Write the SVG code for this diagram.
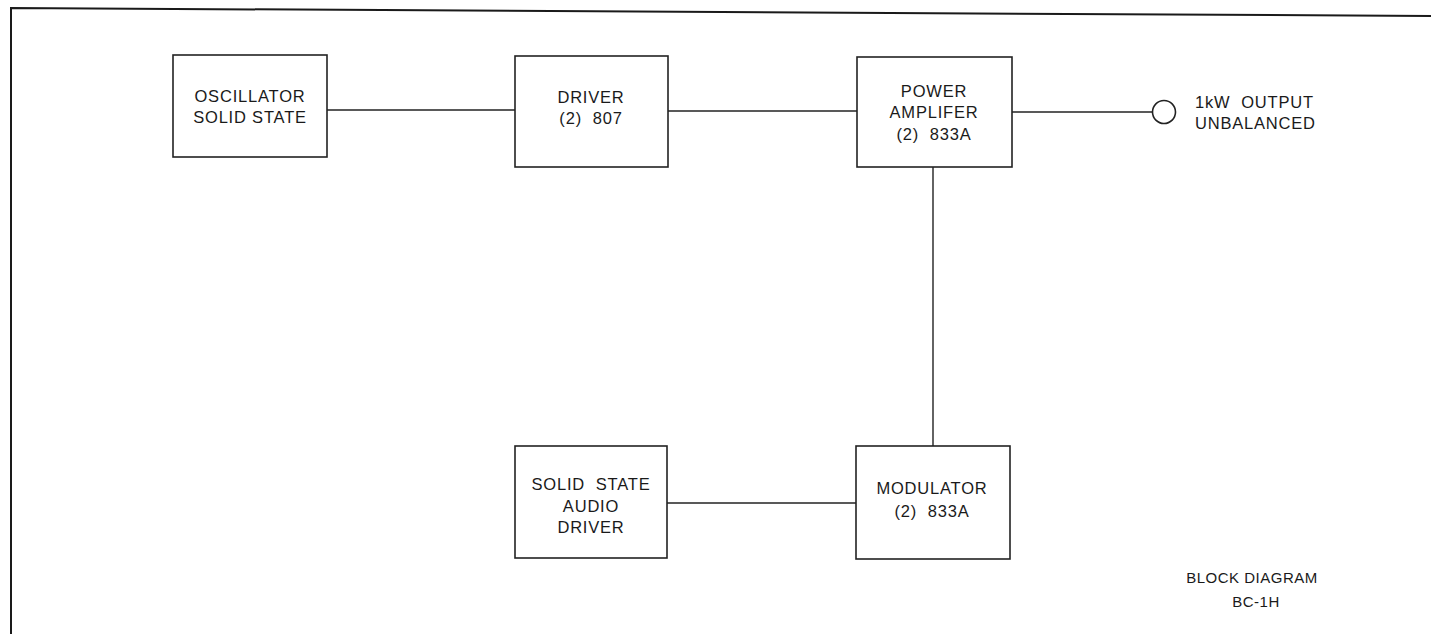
<svg xmlns="http://www.w3.org/2000/svg" width="1431" height="634" viewBox="0 0 1431 634">
<style>
.box{fill:#fff;stroke:#222;stroke-width:1.6}
.ln{stroke:#222;stroke-width:1.4;fill:none}
.fr{stroke:#1a1a1a;stroke-width:2;fill:none}
text{font-family:"Liberation Sans",Arial,sans-serif;font-size:16.5px;fill:#1a1a1a;text-anchor:middle;letter-spacing:0.8px;white-space:pre}
.sm{font-size:15px;letter-spacing:0.5px}
</style>
<rect width="1431" height="634" fill="#fff"/>
<g id="frame">
<path class="fr" d="M11 634 L11 8 L1431 16"/>
</g>
<g id="connectors">
<line class="ln" x1="327" y1="110" x2="515" y2="110"/>
<line class="ln" x1="668" y1="111" x2="857" y2="111"/>
<line class="ln" x1="1012" y1="112" x2="1152" y2="112"/>
<line class="ln" x1="933" y1="167" x2="933" y2="446"/>
<line class="ln" x1="667" y1="503" x2="856" y2="503"/>
</g>
<g id="oscillator">
<rect class="box" x="173" y="55" width="154" height="102"/>
<text x="250" y="102">OSCILLATOR</text>
<text x="250" y="123">SOLID STATE</text>
</g>
<g id="driver">
<rect class="box" x="515" y="56" width="153" height="111"/>
<text x="591" y="103">DRIVER</text>
<text x="591" y="124" xml:space="preserve">(2)  807</text>
</g>
<g id="power-amplifier">
<rect class="box" x="857" y="57" width="155" height="110"/>
<text x="934" y="97">POWER</text>
<text x="934" y="118">AMPLIFER</text>
<text x="934" y="140" xml:space="preserve">(2)  833A</text>
</g>
<g id="output">
<circle cx="1164" cy="112" r="11.5" fill="#fff" stroke="#222" stroke-width="1.6"/>
<text x="1195" y="108" style="text-anchor:start" xml:space="preserve">1kW  OUTPUT</text>
<text x="1195" y="129" style="text-anchor:start">UNBALANCED</text>
</g>
<g id="audio-driver">
<rect class="box" x="515" y="446" width="152" height="112"/>
<text x="591" y="490" xml:space="preserve">SOLID  STATE</text>
<text x="591" y="512">AUDIO</text>
<text x="591" y="533">DRIVER</text>
</g>
<g id="modulator">
<rect class="box" x="856" y="446" width="154" height="113"/>
<text x="932" y="494">MODULATOR</text>
<text x="932" y="517" xml:space="preserve">(2)  833A</text>
</g>
<g id="title">
<text class="sm" x="1252" y="583">BLOCK DIAGRAM</text>
<text class="sm" x="1256" y="607">BC-1H</text>
</g>
</svg>
